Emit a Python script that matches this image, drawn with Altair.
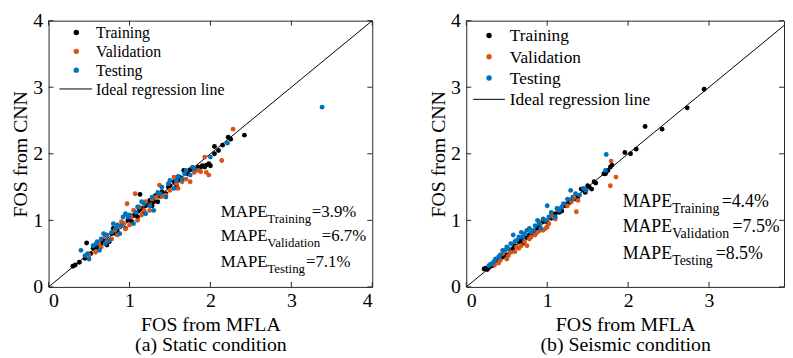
import altair as alt
import pandas as pd

# ---------------- data ----------------
series_names = ["Training", "Validation", "Testing"]
series_colors = ["#000000", "#D95319", "#0072BD"]
axis_ticks = [0, 1, 2, 3, 4]

# (a) Static condition
a_train_x = [0.30, 0.33, 0.38, 0.45, 0.47, 0.52, 0.55, 0.60, 0.62, 0.68, 0.72, 0.75, 0.78, 0.80, 0.85, 0.88,
             0.92, 0.95, 1.00, 1.03, 1.08, 1.10, 1.13, 1.15, 1.18, 1.22, 1.25, 1.28, 1.32, 1.35, 1.40, 1.45,
             1.50, 1.55, 1.58, 1.62, 1.67, 1.72, 1.78, 1.82, 1.85, 1.90, 1.95, 1.98, 2.05, 2.05, 2.10, 2.15,
             2.22, 2.25, 2.42,
             0.58, 0.65, 0.70, 0.83, 0.98, 1.05, 1.12, 1.20, 1.30, 1.38, 1.48, 1.60, 1.70, 1.75, 1.88, 1.93,
             2.00]
a_train_y = [0.31, 0.33, 0.37, 0.43, 0.66, 0.50, 0.58, 0.64, 0.57, 0.70, 0.63, 0.68, 0.80, 0.88, 0.83, 0.90,
             0.95, 0.88, 1.02, 0.98, 1.10, 1.05, 1.39, 1.18, 1.12, 1.25, 1.30, 1.22, 1.37, 1.28, 1.43, 1.40,
             1.52, 1.58, 1.52, 1.65, 1.75, 1.70, 1.78, 1.76, 1.80, 1.82, 1.83, 1.85, 2.00, 2.11, 2.05, 2.13,
             2.25, 2.22, 2.28,
             0.60, 0.66, 0.72, 0.80, 1.00, 1.07, 1.15, 1.22, 1.28, 1.36, 1.50, 1.60, 1.72, 1.76, 1.80, 1.80,
             1.82]
a_val_x = [0.50, 0.58, 0.65, 0.70, 0.78, 0.82, 0.85, 0.90, 0.95, 0.97, 1.00, 1.05, 1.07, 1.10, 1.15, 1.20,
           1.25, 1.33, 1.37, 1.45, 1.50, 1.55, 1.60, 1.70, 1.75, 1.80, 1.88, 1.93, 1.98, 2.14, 2.28,
           0.62, 0.72, 0.88, 0.93, 1.02, 1.12, 1.18, 1.28, 1.40, 1.58, 1.65, 1.85, 1.95]
a_val_y = [0.48, 0.52, 0.60, 0.75, 0.72, 0.85, 0.78, 0.98, 0.87, 1.25, 0.93, 1.15, 1.40, 1.00, 1.08, 1.28,
           1.15, 1.35, 1.53, 1.38, 1.45, 1.65, 1.48, 1.62, 1.58, 1.72, 1.73, 1.95, 1.68, 1.90, 2.37,
           0.66, 0.68, 0.90, 0.95, 1.05, 1.20, 1.15, 1.32, 1.36, 1.55, 1.58, 1.75, 1.72]
a_test_x = [0.40, 0.45, 0.50, 0.55, 0.60, 0.63, 0.68, 0.72, 0.75, 0.80, 0.85, 0.88, 0.92, 0.95, 1.00, 1.05,
            1.10, 1.15, 1.20, 1.25, 1.30, 1.35, 1.40, 1.45, 1.50, 1.55, 1.60, 1.65, 1.70, 1.75, 1.80, 2.00,
            2.21, 3.38,
            0.48, 0.58, 0.65, 0.70, 0.78, 0.83, 0.90, 0.98, 1.08, 1.18, 1.28, 1.38, 1.48, 1.58, 1.68, 1.78]
a_test_y = [0.55, 0.47, 0.42, 0.62, 0.68, 0.55, 0.80, 0.78, 0.70, 0.95, 0.93, 0.80, 1.05, 1.10, 1.08, 0.95,
            1.20, 1.28, 1.10, 1.22, 1.15, 1.42, 1.50, 1.35, 1.60, 1.48, 1.66, 1.62, 1.75, 1.68, 1.77, 1.95,
            2.16, 2.70,
            0.50, 0.64, 0.72, 0.65, 0.82, 0.88, 0.92, 1.05, 1.12, 1.25, 1.35, 1.40, 1.55, 1.60, 1.70, 1.80]
a_mape = ["=3.9%", "=6.7%", "=7.1%"]

# (b) Seismic condition
b_train_x = [0.22, 0.24, 0.26, 0.28, 0.33, 0.38, 0.45, 0.50, 0.55, 0.60, 0.65, 0.70, 0.75, 0.80, 0.85, 0.90,
             0.95, 1.00, 1.05, 1.10, 1.13, 1.18, 1.22, 1.28, 1.32, 1.38, 1.42, 1.47, 1.50, 1.55, 1.58, 1.60,
             1.70, 1.73, 1.75, 1.80, 1.96, 2.03, 2.10, 2.21, 2.42, 2.73, 2.94,
             0.30, 0.42, 0.58, 0.68, 0.78, 0.88, 1.08, 1.15, 1.25, 1.35, 1.45, 1.52, 1.72, 1.78]
b_train_y = [0.27, 0.28, 0.26, 0.29, 0.32, 0.40, 0.45, 0.48, 0.55, 0.62, 0.68, 0.66, 0.74, 0.80, 0.82, 0.90,
             0.98, 0.97, 1.03, 1.10, 1.17, 1.14, 1.22, 1.27, 1.35, 1.35, 1.47, 1.42, 1.52, 1.47, 1.58, 1.56,
             1.70, 1.73, 1.75, 1.83, 2.02, 2.00, 2.07, 2.41, 2.37, 2.69, 2.97,
             0.31, 0.43, 0.58, 0.70, 0.78, 0.88, 1.08, 1.12, 1.25, 1.32, 1.45, 1.50, 1.70, 1.80]
b_val_x = [0.35, 0.42, 0.45, 0.50, 0.55, 0.60, 0.65, 0.72, 0.75, 0.80, 0.85, 0.90, 0.95, 0.98, 1.02, 1.05,
           1.10, 1.30, 1.33, 1.36, 1.38, 1.79, 1.78, 1.85,
           0.40, 0.52, 0.62, 0.68, 0.78, 0.88, 0.92, 1.00, 1.08, 1.25, 1.32]
b_val_y = [0.33, 0.40, 0.50, 0.42, 0.52, 0.53, 0.58, 0.68, 0.62, 0.75, 0.78, 0.98, 0.85, 0.88, 0.95, 1.08,
           1.02, 1.28, 1.35, 1.13, 1.30, 1.89, 1.52, 1.65,
           0.36, 0.47, 0.60, 0.62, 0.72, 0.82, 0.85, 0.90, 1.05, 1.22, 1.33]
b_test_x = [0.28, 0.32, 0.36, 0.40, 0.45, 0.50, 0.55, 0.58, 0.62, 0.68, 0.70, 0.75, 0.80, 0.85, 0.88, 0.92,
            0.95, 1.00, 1.05, 1.10, 1.15, 1.20, 1.25, 1.29, 1.35, 1.40, 1.48, 1.72, 1.73,
            0.30, 0.34, 0.42, 0.48, 0.52, 0.60, 0.65, 0.72, 0.78, 0.83, 0.90, 0.98, 1.02, 1.12, 1.18, 1.30,
            1.45]
b_test_y = [0.32, 0.35, 0.42, 0.45, 0.55, 0.60, 0.65, 0.78, 0.70, 0.82, 0.75, 0.85, 0.82, 0.92, 1.00, 0.88,
            1.02, 1.22, 1.12, 1.05, 1.15, 1.25, 1.32, 1.45, 1.40, 1.38, 1.45, 1.75, 1.99,
            0.34, 0.38, 0.48, 0.55, 0.58, 0.68, 0.75, 0.80, 0.88, 0.85, 0.95, 1.00, 1.05, 1.18, 1.20, 1.32,
            1.48]
b_mape = ["=4.4%", "=7.5%", "=8.5%"]

mape_subs = ["Training", "Validation", "Testing"]

# ---------------- layout constants ----------------
FONT = "Liberation Serif, Times New Roman, serif"
H = 269
UNIT = 327 / 4.0          # pixels per FOS unit (both axes use the same)
UNIT_Y = H / 4.0
FRAME = "#262626"


def px(xp):
    return xp / UNIT


def py(yp):
    return 4.0 - yp / UNIT_Y


def panel(tr_x, tr_y, va_x, va_y, te_x, te_y, mape_vals, width, xtick_vals, caption,
          leg, mape):
    xmax = width / UNIT
    xs = alt.Scale(domain=[0, xmax], nice=False, zero=False)
    ys = alt.Scale(domain=[0, 4], nice=False, zero=False)

    rows = []
    for name, xx, yy in [("Training", tr_x, tr_y), ("Validation", va_x, va_y), ("Testing", te_x, te_y)]:
        for a, b in zip(xx, yy):
            rows.append({"x": a, "y": b, "set": name})
    df = pd.DataFrame(rows)

    xaxis = alt.Axis(values=xtick_vals, format="d", title=["FOS from MFLA", caption], ticks=False,
                     domain=False, grid=False, labelFontSize=20, titleFontSize=20,
                     titleFontWeight="normal", labelPadding=4, titlePadding=4, titleLineHeight=20,
                     labelColor="black", titleColor="black", labelFont=FONT, titleFont=FONT)
    yaxis = alt.Axis(values=axis_ticks, format="d", title="FOS from CNN", ticks=False, domain=False,
                     grid=False, labelFontSize=20, titleFontSize=20, titleFontWeight="normal",
                     labelPadding=6, titlePadding=2, labelColor="black", titleColor="black",
                     labelFont=FONT, titleFont=FONT)

    base = alt.Chart(df).mark_circle(size=24, opacity=1).encode(
        x=alt.X("x:Q", scale=xs, axis=xaxis),
        y=alt.Y("y:Q", scale=ys, axis=yaxis),
        color=alt.Color("set:N", scale=alt.Scale(domain=series_names, range=series_colors), legend=None),
        order=alt.Order("ord:Q"),
    ).transform_calculate(
        ord="datum.set == 'Training' ? 0 : (datum.set == 'Validation' ? 1 : 2)"
    )

    diag = alt.Chart(pd.DataFrame({"x": [0, 4], "y": [0, 4]})).mark_line(
        color="black", strokeWidth=1, clip=True).encode(x=alt.X("x:Q", scale=xs), y=alt.Y("y:Q", scale=ys))

    # inner (MATLAB-style) ticks on all four sides
    xt = pd.DataFrame({"v": xtick_vals})
    yt = pd.DataFrame({"v": axis_ticks})
    tk = 5
    t_bottom = alt.Chart(xt).mark_rule(color=FRAME, strokeWidth=1).encode(
        x=alt.X("v:Q", scale=xs), y=alt.value(H), y2=alt.value(H - tk))
    t_top = alt.Chart(xt).mark_rule(color=FRAME, strokeWidth=1).encode(
        x=alt.X("v:Q", scale=xs), y=alt.value(0), y2=alt.value(tk))
    t_left = alt.Chart(yt).mark_rule(color=FRAME, strokeWidth=1).encode(
        y=alt.Y("v:Q", scale=ys), x=alt.value(0), x2=alt.value(tk))
    t_right = alt.Chart(yt).mark_rule(color=FRAME, strokeWidth=1).encode(
        y=alt.Y("v:Q", scale=ys), x=alt.value(width - tk), x2=alt.value(width))

    # legend (drawn by hand to mimic MATLAB legend)
    ldot_x, ltxt_x, ly0, lstep, lline_x0, lline_x1, lfs = leg
    leg_dots = pd.DataFrame({
        "x": [px(ldot_x)] * 3,
        "y": [py(ly0 + i * lstep) for i in range(3)],
        "set": series_names,
    })
    dots = alt.Chart(leg_dots).mark_circle(size=30, opacity=1).encode(
        x=alt.X("x:Q", scale=xs), y=alt.Y("y:Q", scale=ys),
        color=alt.Color("set:N", scale=alt.Scale(domain=series_names, range=series_colors), legend=None))
    leg_txt = pd.DataFrame({
        "x": [px(ltxt_x)] * 4,
        "y": [py(ly0 + i * lstep) for i in range(4)],
        "t": series_names + ["Ideal regression line"],
    })
    ltext = alt.Chart(leg_txt).mark_text(align="left", baseline="middle", font=FONT, fontSize=lfs,
                                         color="black", dy=1).encode(
        x=alt.X("x:Q", scale=xs), y=alt.Y("y:Q", scale=ys), text="t:N")
    lline = alt.Chart(pd.DataFrame({"x": [px(lline_x0)], "x2": [px(lline_x1)],
                                    "y": [py(ly0 + 3 * lstep)]})).mark_rule(
        color="black", strokeWidth=1).encode(
        x=alt.X("x:Q", scale=xs), x2="x2:Q", y=alt.Y("y:Q", scale=ys))

    # MAPE annotation: main text, subscript, value
    mx, mbase, mfs, sfs, sub_dx, eq_dx = mape
    ann = []
    for i in range(3):
        b = mbase[i]
        ann.append({"x": px(mx), "y": py(b), "t": "MAPE", "fs": mfs})
        ann.append({"x": px(mx + sub_dx), "y": py(b + 6), "t": mape_subs[i], "fs": sfs})
        ann.append({"x": px(mx + eq_dx[i]), "y": py(b), "t": mape_vals[i], "fs": mfs})
    anntext = alt.Chart(pd.DataFrame(ann)).mark_text(align="left", baseline="alphabetic", font=FONT,
                                                      color="black").encode(
        x=alt.X("x:Q", scale=xs), y=alt.Y("y:Q", scale=ys), text="t:N",
        size=alt.Size("fs:Q", scale=None, legend=None))

    return alt.layer(t_bottom, t_top, t_left, t_right, diag, base, dots, ltext, lline, anntext).properties(
        width=width, height=H)


left = panel(a_train_x, a_train_y, a_val_x, a_val_y, a_test_x, a_test_y, a_mape, 327, axis_ticks,
             "(a) Static condition",
             leg=(28, 48, 12, 19, 11, 44, 16),
             mape=(174, [198, 223, 249], 17, 13, 47, [92, 102, 86]))
right = panel(b_train_x, b_train_y, b_val_x, b_val_y, b_test_x, b_test_y, b_mape, 321, [0, 1, 2, 3],
              "(b) Seismic condition",
              leg=(23, 44, 15, 21.5, 7, 39, 17.5),
              mape=(158, [188, 214, 241], 18, 14, 50, [100, 111, 94]))

chart = alt.hconcat(left, right, spacing=95, bounds="flush").properties(
    padding={"left": 2, "top": 0, "right": 0, "bottom": 0}
).configure(font=FONT).configure_view(stroke=FRAME, strokeWidth=1)

chart.save("out.html", embed_options={"renderer": "svg", "actions": False})
